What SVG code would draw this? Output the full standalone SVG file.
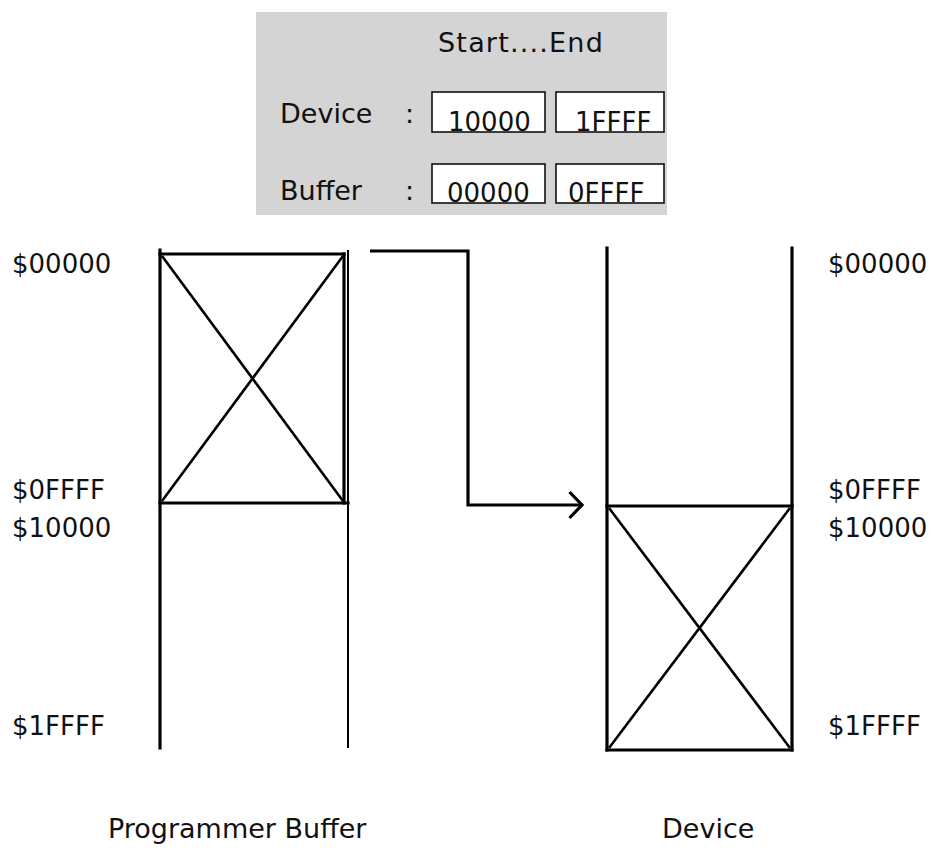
<svg xmlns="http://www.w3.org/2000/svg" width="939" height="848" viewBox="0 0 939 848">
<style>
text{font-family:"DejaVu Sans","Noto Sans",sans-serif;font-size:27px;fill:#111}
.lbl{font-size:26px}
.box{fill:#fff;stroke:#111;stroke-width:1.6}
.thick{stroke:#000;stroke-width:3.2;fill:none;stroke-linecap:square}
.thin{stroke:#000;stroke-width:2;fill:none}
.diag{stroke:#000;stroke-width:2.6;fill:none}
</style>
<defs>
<marker id="chev" viewBox="0 0 16 30" refX="14" refY="15" markerWidth="16" markerHeight="30" markerUnits="userSpaceOnUse" orient="auto">
<polyline points="1.5,2 14,15 1.5,28" fill="none" stroke="#000" stroke-width="3.2"/>
</marker>
</defs>
<rect width="939" height="848" fill="#fff"/>
<g id="settings-panel">
<rect x="256" y="12" width="411" height="203" fill="#d4d4d4"/>
<text x="438" y="52" style="letter-spacing:1.2px">Start....End</text>
<text x="280" y="123">Device</text>
<text x="405" y="123">:</text>
<text x="280" y="200">Buffer</text>
<text x="405" y="200">:</text>
<rect class="box" x="432" y="92" width="113" height="40"/>
<rect class="box" x="556" y="92" width="108" height="40"/>
<rect class="box" x="432" y="164" width="113" height="39"/>
<rect class="box" x="556" y="164" width="108" height="39"/>
<text class="lbl" x="448" y="131">10000</text>
<text class="lbl" x="575" y="131">1FFFF</text>
<text class="lbl" x="447" y="202">00000</text>
<text class="lbl" x="568" y="202">0FFFF</text>
</g>
<g id="programmer-buffer">
<line class="thick" x1="160" y1="250" x2="160" y2="748"/>
<line class="thin" x1="348" y1="250" x2="348" y2="748"/>
<line class="thick" x1="160" y1="254" x2="344" y2="254"/>
<line class="thick" x1="344" y1="254" x2="344" y2="503"/>
<line class="thick" x1="160" y1="503" x2="348" y2="503"/>
<line class="diag" x1="162" y1="256" x2="343" y2="501"/>
<line class="diag" x1="343" y1="256" x2="162" y2="501"/>
<text class="lbl" x="12" y="273">$00000</text>
<text class="lbl" x="12" y="499">$0FFFF</text>
<text class="lbl" x="12" y="537">$10000</text>
<text class="lbl" x="12" y="735">$1FFFF</text>
<text x="108" y="838">Programmer Buffer</text>
</g>
<g id="device">
<line class="thick" x1="607" y1="248" x2="607" y2="750"/>
<line class="thick" x1="792" y1="248" x2="792" y2="750"/>
<line class="thick" x1="607" y1="506" x2="792" y2="506"/>
<line class="thick" x1="607" y1="750" x2="792" y2="750"/>
<line class="diag" x1="609" y1="508" x2="790" y2="748"/>
<line class="diag" x1="790" y1="508" x2="609" y2="748"/>
<text class="lbl" x="828" y="273">$00000</text>
<text class="lbl" x="828" y="499">$0FFFF</text>
<text class="lbl" x="828" y="537">$10000</text>
<text class="lbl" x="828" y="735">$1FFFF</text>
<text x="662" y="838">Device</text>
</g>
<g id="connectors">
<polyline points="370,251 468,251 468,505 582,505" fill="none" stroke="#000" stroke-width="3.2" marker-end="url(#chev)"/>
</g>
</svg>
